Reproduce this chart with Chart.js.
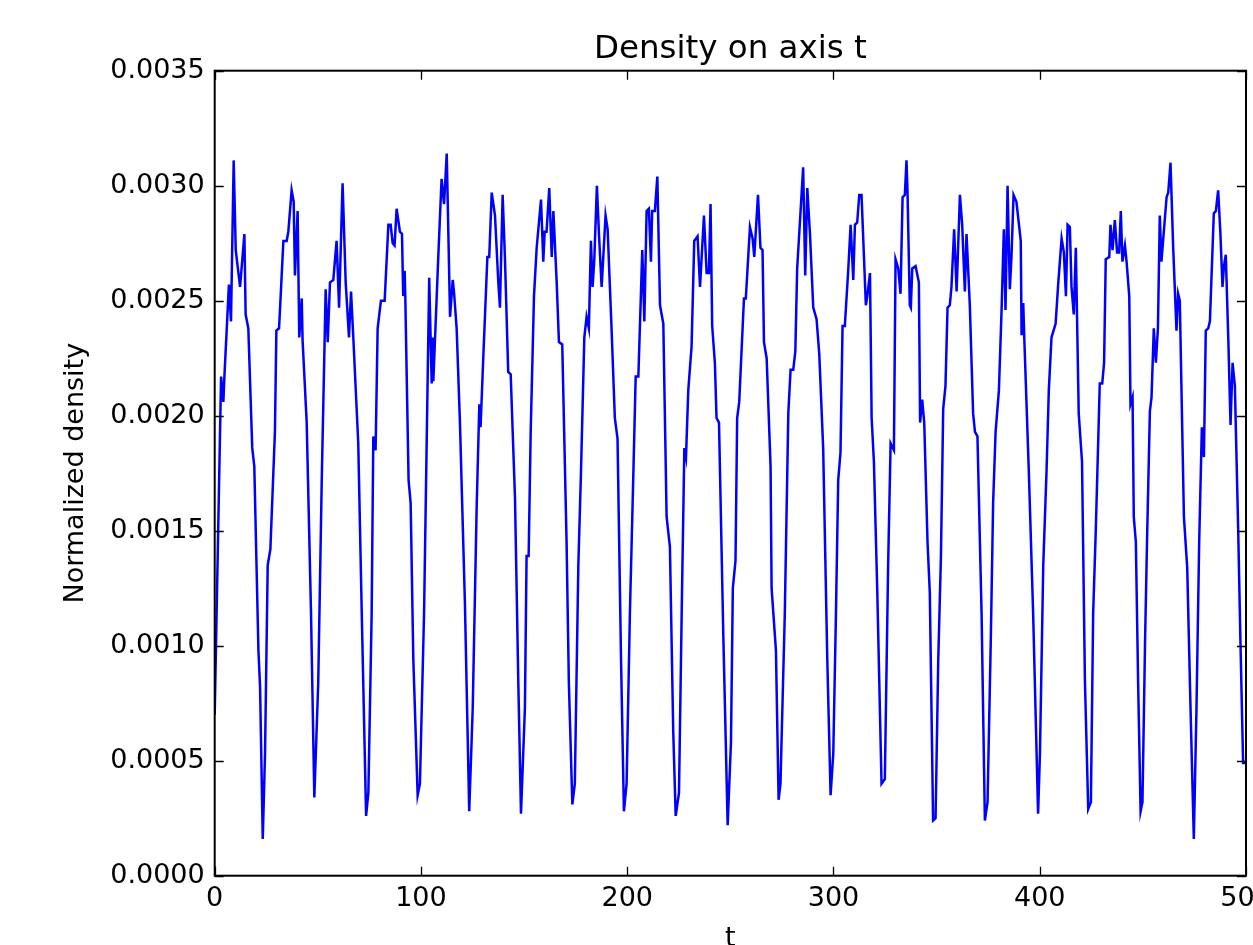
<!DOCTYPE html>
<html>
<head>
<meta charset="utf-8">
<title>Density on axis t</title>
<script src="https://cdn.jsdelivr.net/npm/chart.js@4.4.1/dist/chart.umd.min.js"></script>
<style>
  html, body { margin: 0; padding: 0; background: #fff; overflow: hidden; }
  #wrap { width: 1290px; height: 965px; }
</style>
</head>
<body>
<div id="wrap"><canvas id="densityChart" width="1290" height="965"></canvas></div>
<script>
// sample positions along t (vertices, one row per cycle)
const tValues = [
  0, 3.1, 4.2, 4.7, 6.9, 7.9, 9.2, 10.2, 12.3, 14.4, 15.0, 16.3, 18.2, 19.2, 21.2, 22.0, 23.3,
  24.4, 25.7, 27.0, 29.2, 29.9, 31.2, 33.3, 34.9, 35.7, 37.3, 38.3, 38.9, 40.2, 41.0, 42.2, 42.6, 44.6, 46.7, 48.3,
  50.2, 51.9, 53.8, 54.8, 55.9, 57.5, 59.1, 60.3, 62.0, 63.5, 65.1, 66.1, 67.2, 69.6, 71.3, 73.4,
  74.5, 76.1, 76.9, 78.0, 79.0, 80.6, 82.4, 84.2, 85.3, 86.3, 87.2, 88.2, 89.8, 90.8, 91.4, 92.1, 92.4, 94.0, 95.0, 96.3, 98.4,
  99.5, 101.5, 104.0, 105.2, 105.7, 106.0, 108.4, 110.0, 111.2, 112.5, 114.1, 115.4, 116.0, 117.3, 118.9, 121.3, 123.4,
  125.1, 127.0, 128.3, 128.9, 130.2, 132.2, 133.1, 134.3, 135.9, 137.5, 138.3, 139.6, 140.7, 142.3, 143.5, 145.6, 147.2, 148.5,
  150.4, 151.2, 152.2, 153.2, 154.8, 156.1, 158.2, 159.3, 160.0, 160.9, 162.2, 163.4, 164.2, 165.8, 166.9, 168.5, 170.6, 171.7, 173.4,
  174.6, 176.3, 177.6, 179.2, 180.3, 181.4, 182.4, 183.2, 184.0, 185.3, 186.3, 187.6, 189.5, 190.5, 192.4, 194.0, 195.3, 197.0, 198.4,
  199.7, 201.3, 202.9, 204.1, 205.4, 207.3, 208.3, 209.4, 210.5, 211.5, 212.1, 213.4, 214.6, 215.9, 217.5, 219.1, 220.7, 222.3, 223.5,
  225.1, 226.4, 227.7, 228.5, 229.6, 231.2, 232.5, 234.1, 235.3, 237.2, 238.5, 239.6, 240.4, 241.2, 242.5, 243.3, 244.5, 246.6, 248.7,
  250.3, 251.2, 252.5, 253.3, 254.3, 256.6, 257.5, 259.5, 260.8, 261.6, 263.4, 264.6, 265.6, 266.3, 267.6, 269.5, 270.0, 272.1, 273.4,
  274.3, 276.4, 278.1, 279.2, 280.5, 281.5, 282.4, 285.3, 286.3, 287.3, 288.6, 290.2, 291.8, 293.1, 295.0, 297.0, 298.6,
  299.9, 301.2, 302.3, 303.4, 304.4, 305.5, 307.2, 308.3, 309.6, 310.4, 311.5, 312.5, 313.6, 315.7, 316.4, 317.7, 318.5, 319.6, 321.2, 323.3,
  324.9, 326.5, 327.7, 329.3, 330.1, 331.4, 332.5, 333.5, 334.6, 335.4, 335.9, 337.0, 337.5, 338.2, 339.8, 341.4, 342.0, 343.0, 344.0, 345.6, 346.7, 348.3,
  349.5, 350.8, 352.1, 353.2, 354.3, 355.3, 356.4, 357.2, 358.5, 359.7, 361.3, 362.4, 363.7, 364.5, 366.1, 367.7, 368.6, 369.8, 371.8, 373.4,
  374.7, 376.3, 377.4, 378.6, 380.2, 381.5, 382.6, 383.4, 384.4, 385.5, 386.3, 387.3, 388.7, 390.8, 391.2, 392.0, 392.5, 394.7, 396.8, 399.2,
  400.1, 401.7, 403.3, 404.4, 405.7, 407.7, 409.0, 410.6, 411.7, 412.7, 413.5, 414.6, 415.4, 416.5, 417.5, 418.9, 420.5, 421.9, 423.5,
  424.8, 425.9, 427.2, 429.1, 430.3, 431.2, 432.0, 433.7, 434.3, 435.3, 436.4, 437.5, 438.5, 439.3, 440.1, 441.3, 442.1, 443.4, 444.0, 445.0, 445.6, 446.6, 447.7, 448.9,
  449.8, 451.1, 452.1, 453.4, 454.2, 455.3, 456.3, 457.3, 458.2, 459.0, 459.8, 461.5, 462.3, 463.4, 464.7, 466.3, 467.1, 467.9, 469.9, 471.5, 473.1, 474.7,
  476.0, 477.3, 478.6, 479.6, 480.5, 481.7, 482.5, 484.4, 485.4, 486.5, 487.6, 488.6, 489.3, 490.2, 491.4, 492.5, 493.5, 494.6, 496.2, 497.3, 498.6, 500
];

// normalized density at those positions
const density = [
  .00070, .00217, .00206, .00217, .00257, .00241, .00311, .00272, .00256, .00279, .00244, .00238, .00186, .00178, .00098, .00082, .00016,
  .00053, .00135, .00142, .00193, .00237, .00238, .00276, .00276, .00280, .00298, .00293, .00261, .00289, .00234, .00251, .00233, .00197, .00114, .00034,
  .00084, .00172, .00255, .00232, .00258, .00259, .00276, .00247, .00301, .00258, .00234, .00254, .00234, .00188, .00114, .00026,
  .00036, .00114, .00191, .00185, .00238, .00250, .00250, .00283, .00283, .00275, .00274, .00290, .00280, .00279, .00252, .00263, .00252, .00172, .00162, .00094, .00035,
  .00040, .00114, .00260, .00214, .00234, .00215, .00269, .00303, .00292, .00314, .00243, .00259, .00254, .00238, .00197, .00119, .00028,
  .00073, .00160, .00205, .00195, .00225, .00269, .00269, .00297, .00287, .00258, .00247, .00296, .00269, .00219, .00218, .00164, .00084, .00027,
  .00073, .00139, .00139, .00193, .00252, .00273, .00294, .00267, .00280, .00280, .00299, .00269, .00289, .00258, .00232, .00231, .00145, .00084, .00031,
  .00040, .00135, .00176, .00234, .00243, .00238, .00276, .00256, .00267, .00300, .00279, .00256, .00287, .00281, .00238, .00199, .00190, .00094, .00028,
  .00040, .00114, .00172, .00217, .00217, .00272, .00241, .00289, .00290, .00267, .00289, .00289, .00304, .00248, .00240, .00156, .00143, .00063, .00026,
  .00036, .00114, .00186, .00182, .00211, .00230, .00276, .00278, .00256, .00287, .00262, .00262, .00292, .00239, .00223, .00199, .00197, .00104, .00022,
  .00058, .00125, .00137, .00199, .00206, .00251, .00251, .00282, .00277, .00269, .00296, .00273, .00272, .00232, .00225, .00178, .00125, .00098, .00033,
  .00040, .00114, .00201, .00220, .00220, .00228, .00264, .00308, .00261, .00299, .00279, .00247, .00242, .00227, .00186, .00094, .00035,
  .00053, .00114, .00172, .00184, .00239, .00239, .00264, .00283, .00259, .00283, .00284, .00296, .00296, .00248, .00252, .00262, .00199, .00180, .00125, .00040,
  .00042, .00135, .00188, .00185, .00268, .00264, .00253, .00295, .00296, .00311, .00297, .00248, .00247, .00264, .00265, .00258, .00197, .00207, .00197, .00145, .00123, .00024,
  .00025, .00094, .00139, .00203, .00213, .00247, .00248, .00256, .00281, .00254, .00296, .00283, .00254, .00279, .00248, .00201, .00193, .00191, .00114, .00024,
  .00032, .00104, .00162, .00193, .00211, .00246, .00281, .00246, .00300, .00255, .00269, .00296, .00293, .00276, .00235, .00249, .00234, .00176, .00114, .00027,
  .00053, .00135, .00176, .00211, .00234, .00240, .00258, .00277, .00271, .00252, .00283, .00282, .00256, .00244, .00273, .00201, .00180, .00085, .00029,
  .00032, .00114, .00151, .00214, .00214, .00223, .00268, .00269, .00283, .00272, .00285, .00271, .00271, .00289, .00267, .00274, .00267, .00252, .00205, .00208, .00156, .00145, .00084, .00028,
  .00032, .00104, .00149, .00202, .00208, .00238, .00223, .00238, .00287, .00267, .00276, .00295, .00297, .00310, .00273, .00237, .00253, .00250, .00156, .00134, .00073, .00016,
  .00073, .00145, .00195, .00182, .00237, .00238, .00241, .00288, .00289, .00298, .00279, .00256, .00265, .00270, .00234, .00196, .00223, .00213, .00151, .00102, .00049, .00049
];

const xTicks = [0, 100, 200, 300, 400, 500];
const yTicks = [0, 0.0005, 0.0010, 0.0015, 0.0020, 0.0025, 0.0030, 0.0035];

const points = tValues.map((t, i) => ({ x: t, y: density[i] }));

// matplotlib style frame: spines on four sides, ticks pointing inward
const framePlugin = {
  id: 'frame',
  afterDraw(chart) {
    const { ctx, chartArea: a, scales } = chart;
    ctx.save();
    ctx.strokeStyle = '#000';
    ctx.lineWidth = 1.3;
    const len = 9;
    ctx.beginPath();
    xTicks.forEach(v => {
      const px = Math.round(scales.x.getPixelForValue(v)) + 0.5;
      ctx.moveTo(px, a.bottom); ctx.lineTo(px, a.bottom - len);
      ctx.moveTo(px, a.top); ctx.lineTo(px, a.top + len);
    });
    yTicks.forEach(v => {
      const py = Math.round(scales.y.getPixelForValue(v)) + 0.5;
      ctx.moveTo(a.left, py); ctx.lineTo(a.left + len, py);
      ctx.moveTo(a.right, py); ctx.lineTo(a.right - len, py);
    });
    ctx.stroke();
    ctx.lineWidth = 2;
    ctx.strokeRect(a.left, a.top, a.right - a.left, a.bottom - a.top);
    ctx.restore();
  }
};

Chart.defaults.font.family = "'DejaVu Sans', sans-serif";
Chart.defaults.color = '#000';

const ctx = document.getElementById('densityChart').getContext('2d');
new Chart(ctx, {
  type: 'line',
  data: {
    datasets: [{
      label: 'density',
      data: points,
      borderColor: '#0000ff',
      borderWidth: 2.5,
      pointRadius: 0,
      tension: 0,
      fill: false
    }]
  },
  options: {
    responsive: false,
    animation: false,
    devicePixelRatio: 1,
    layout: { padding: { left: 0, right: 44, top: 0, bottom: 0 } },
    plugins: {
      legend: { display: false },
      tooltip: { enabled: false },
      title: {
        display: true,
        text: 'Density on axis t',
        fullSize: false,
        color: '#000',
        font: { size: 32.5, weight: 'normal' },
        padding: { top: 30.5, bottom: 1.2 }
      }
    },
    scales: {
      x: {
        type: 'linear',
        min: 0,
        max: 500,
        grid: { display: false, drawTicks: false },
        border: { display: false },
        ticks: {
          stepSize: 100,
          autoSkip: false,
          maxRotation: 0,
          padding: 7.5,
          font: { size: 27 },
          callback: v => String(v)
        },
        title: {
          display: true,
          text: 't',
          font: { size: 27 },
          padding: { top: 0, bottom: 10 }
        },
        afterFit: s => { s.height = 965 - 875.7; }
      },
      y: {
        min: 0,
        max: 0.0035,
        grid: { display: false, drawTicks: false },
        border: { display: false },
        ticks: {
          stepSize: 0.0005,
          autoSkip: false,
          padding: 10,
          font: { size: 27 },
          callback: v => Number(v).toFixed(4)
        },
        title: {
          display: true,
          text: 'Normalized density',
          font: { size: 27 },
          padding: { top: 60, bottom: 0 }
        },
        afterFit: s => { s.width = 214.7; }
      }
    }
  },
  plugins: [framePlugin]
});
</script>
</body>
</html>
